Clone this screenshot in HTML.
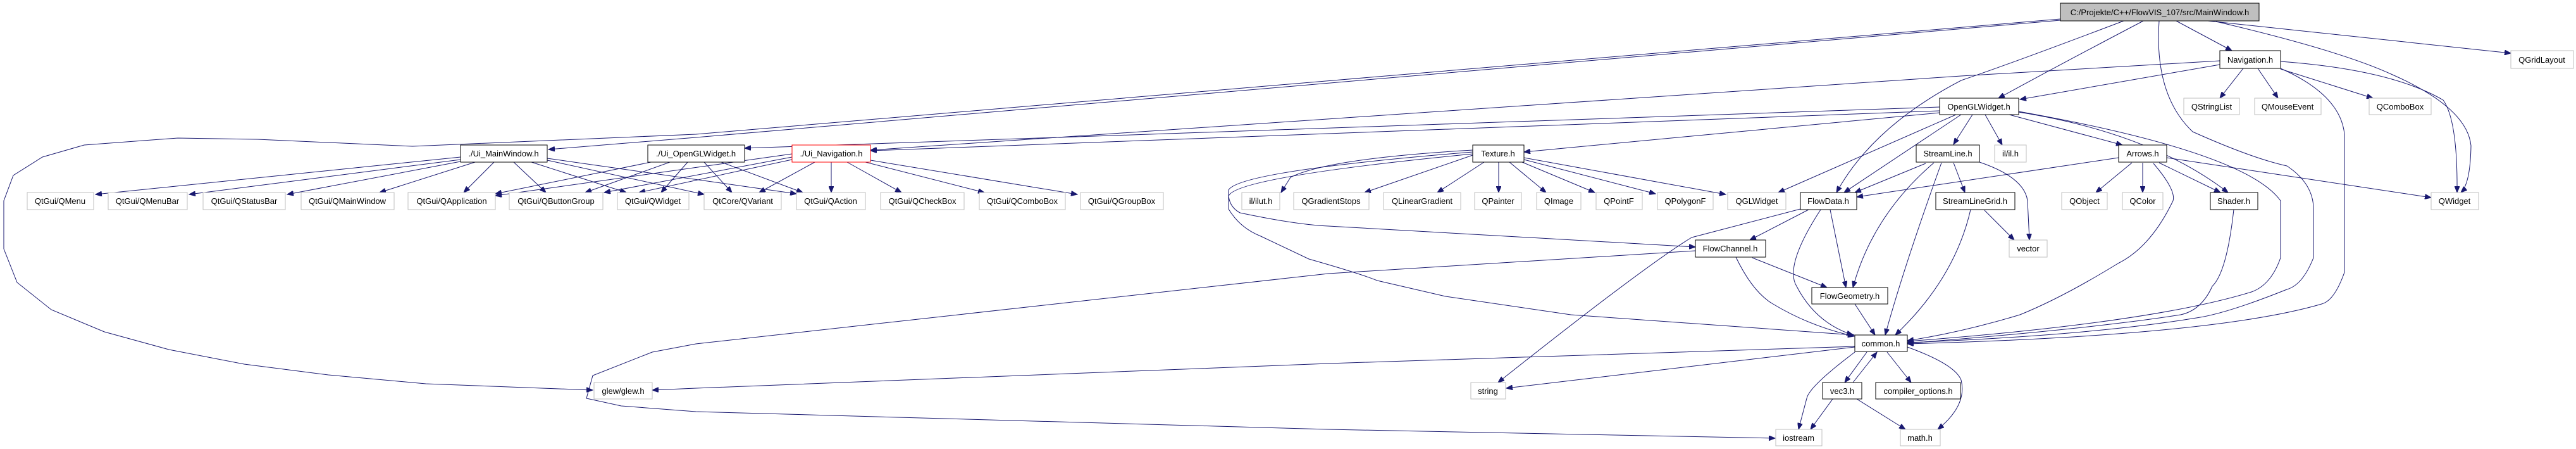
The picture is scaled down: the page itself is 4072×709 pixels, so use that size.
<!DOCTYPE html>
<html><head><meta charset="utf-8"><style>
html,body{margin:0;padding:0;background:#fff;}
svg{display:block;}
text{font-family:"Liberation Sans",Arial,sans-serif;font-size:13px;fill:#000;text-anchor:middle;}
.g{fill:#fff;stroke:#bfbfbf;stroke-width:1;}
.b{fill:#fff;stroke:#000;stroke-width:1;}
.e{fill:none;stroke:#191970;stroke-width:1;marker-end:url(#a);}
</style></head><body>
<svg width="4072" height="709" viewBox="0 0 4072 709" xmlns="http://www.w3.org/2000/svg">
<defs><marker id="a" markerUnits="userSpaceOnUse" markerWidth="11" markerHeight="8" refX="10" refY="4" orient="auto"><path d="M0,0 L10,4 L0,8 z" fill="#191970" stroke="#191970"/></marker></defs>

<!-- edges -->
<g>
<!-- root -->
<path class="e" d="M3257,32 L1100,217 L867,236"/>
<path class="e" d="M3257,30 L1100,212 L652,231 L407,220 L281,218 L133,229 L67,248 L21,277 L6,317 L6,393 L27,446 L81,489 L165,524 L267,552 L386,575 L519,592 L673,606 L937,616"/>
<path class="e" d="M3388,33 Q3260,100 3159,155"/>
<path class="e" d="M3440,33 L3528,80"/>
<path class="e" d="M3490,33 L3969,84"/>
<path class="e" d="M3503,34 Q3700,80 3782,118 Q3900,170 3906,230 Q3905,290 3890,304"/>
<path class="e" d="M3413,33 Q3405,150 3466,208 Q3560,250 3615,262 Q3657,290 3657,330 L3657,407 Q3640,450 3615,457 Q3520,495 3472,502 Q3300,530 3015,541"/>
<path class="e" d="M3357,33 Q3180,100 3100,127 Q2960,200 2903,304"/>
<!-- Navigation -->
<path class="e" d="M3546,108 L3509,155"/>
<path class="e" d="M3569,108 L3601,155"/>
<path class="e" d="M3605,109 L3751,155"/>
<path class="e" d="M3605,97 Q3780,110 3862,158 Q3885,190 3884,304"/>
<path class="e" d="M3509,102 L3193,157"/>
<path class="e" d="M3509,96 L3100,120 L1376,237"/>
<path class="e" d="M3605,108 Q3700,150 3706,212 L3706,430 Q3690,475 3670,480 Q3500,530 3015,543"/>
<!-- OpenGLWidget -->
<path class="e" d="M3066,169 L1177,234"/>
<path class="e" d="M3066,172 L1100,225 L1376,237" style="display:none"/>
<path class="e" d="M3066,175 L1376,238"/>
<path class="e" d="M3066,178 L2409,240"/>
<path class="e" d="M3092,181 L2811,304"/>
<path class="e" d="M3100,181 L2915,304"/>
<path class="e" d="M3118,181 L3088,228"/>
<path class="e" d="M3138,181 L3165,229"/>
<path class="e" d="M3176,181 L3355,229"/>
<path class="e" d="M3191,177 Q3400,210 3522,304"/>
<path class="e" d="M3191,176 Q3550,240 3605,317 L3605,407 Q3590,450 3559,461 Q3400,510 3015,539"/>
<!-- Texture -->
<path class="e" d="M2328,237 Q2100,250 2040,280 L2025,304"/>
<path class="e" d="M2328,245 L2157,304"/>
<path class="e" d="M2346,256 L2272,304"/>
<path class="e" d="M2369,256 L2369,304"/>
<path class="e" d="M2386,256 L2444,304"/>
<path class="e" d="M2406,256 L2521,304"/>
<path class="e" d="M2409,252 L2617,306"/>
<path class="e" d="M2409,249 L2728,307"/>
<path class="e" d="M2328,240 Q1960,270 1942,300 Q1940,325 1960,336 Q2050,355 2100,357 L2680,390"/>
<path class="e" d="M2328,243 Q1950,280 1942,310 L1942,330 Q1960,360 1993,373 L2069,409 Q2150,432 2177,443 L2285,468 L2483,497 L2931,529"/>
<!-- Ui_MainWindow -->
<path class="e" d="M728,248 L151,307"/>
<path class="e" d="M728,252 L299,307"/>
<path class="e" d="M728,255 L454,307"/>
<path class="e" d="M751,256 L600,304"/>
<path class="e" d="M781,256 L733,304"/>
<path class="e" d="M812,256 L863,304"/>
<path class="e" d="M840,256 L990,304"/>
<path class="e" d="M865,253 L1113,307"/>
<path class="e" d="M865,250 L1259,306"/>
<!-- Ui_OpenGLWidget -->
<path class="e" d="M1029,256 L783,306"/>
<path class="e" d="M1059,256 L925,304"/>
<path class="e" d="M1087,256 L1045,304"/>
<path class="e" d="M1113,256 L1157,304"/>
<path class="e" d="M1140,256 L1269,304"/>
<!-- Ui_Navigation -->
<path class="e" d="M1252,243 L783,309"/>
<path class="e" d="M1252,248 L955,304"/>
<path class="e" d="M1252,252 L1010,304"/>
<path class="e" d="M1288,256 L1200,304"/>
<path class="e" d="M1314,256 L1314,304"/>
<path class="e" d="M1339,256 L1425,304"/>
<path class="e" d="M1368,256 L1556,304"/>
<path class="e" d="M1376,253 L1703,307"/>
<!-- FlowData -->
<path class="e" d="M2859,331 L2766,379"/>
<path class="e" d="M2893,331 L2918,454"/>
<path class="e" d="M2878,331 Q2820,420 2840,452 Q2870,510 2929,529"/>
<path class="e" d="M2846,330 L2674,375 Q2600,420 2368,604"/>
<!-- FlowChannel -->
<path class="e" d="M2770,407 L2888,454"/>
<path class="e" d="M2744,406 Q2770,460 2801,479 Q2860,515 2931,531"/>
<path class="e" d="M2680,396 L2100,432 L1100,543 L1031,556 L937,593 L927,629 L982,641 L1100,650 L2100,678 L2806,692"/>
<!-- FlowGeometry -->
<path class="e" d="M2932,480 L2964,529"/>
<!-- StreamLine -->
<path class="e" d="M3044,258 L2932,304"/>
<path class="e" d="M3057,257 Q2960,340 2929,454"/>
<path class="e" d="M3069,257 Q3010,420 2980,529"/>
<path class="e" d="M3088,257 L3106,304"/>
<path class="e" d="M3129,256 Q3200,280 3205,317 L3208,379"/>
<!-- Arrows -->
<path class="e" d="M3349,249 L2935,311"/>
<path class="e" d="M3370,257 L3313,304"/>
<path class="e" d="M3387,257 L3387,304"/>
<path class="e" d="M3413,257 L3510,304"/>
<path class="e" d="M3425,249 L3843,312"/>
<path class="e" d="M3404,258 Q3440,300 3435,317 Q3400,390 3348,416 Q3260,470 3193,497 Q3100,525 3015,538"/>
<!-- StreamLineGrid -->
<path class="e" d="M3137,332 L3184,379"/>
<path class="e" d="M3115,331 Q3090,440 2996,529"/>
<!-- Shader -->
<path class="e" d="M3531,331 Q3520,430 3497,452 Q3480,490 3447,497 Q3300,520 3015,542"/>
<!-- common -->
<path class="e" d="M2932,548 L2381,613"/>
<path class="e" d="M2951,556 L2916,604"/>
<path class="e" d="M2929,604 L2967,556"/>
<path class="e" d="M2983,556 L3021,604"/>
<path class="e" d="M2932,556 Q2860,610 2856,629 L2843,678"/>
<path class="e" d="M3015,548 Q3090,575 3100,600 Q3110,640 3063,678"/>
<path class="e" d="M2932,547 L2100,574 L1100,613 L1031,616"/>
<!-- vec3 -->
<path class="e" d="M2897,630 L2862,678"/>
<path class="e" d="M2935,630 L3012,678"/>
</g>

<!-- nodes -->
<rect x="3257" y="5" width="314" height="28" fill="#bfbfbf" stroke="#000"/><text x="3414" y="24">C:/Projekte/C++/FlowVIS_107/src/MainWindow.h</text>
<rect class="b" x="3509" y="80" width="96" height="28"/><text x="3557" y="99">Navigation.h</text>
<rect class="g" x="3969" y="80" width="99" height="28"/><text x="4018" y="99">QGridLayout</text>
<rect class="b" x="3066" y="155" width="125" height="26"/><text x="3128" y="173">OpenGLWidget.h</text>
<rect class="g" x="3452" y="155" width="88" height="26"/><text x="3496" y="173">QStringList</text>
<rect class="g" x="3564" y="155" width="105" height="26"/><text x="3616" y="173">QMouseEvent</text>
<rect class="g" x="3745" y="155" width="98" height="26"/><text x="3794" y="173">QComboBox</text>

<rect class="b" x="728" y="229" width="137" height="27"/><text x="796" y="247">./Ui_MainWindow.h</text>
<rect class="b" x="1024" y="229" width="153" height="27"/><text x="1100" y="247">./Ui_OpenGLWidget.h</text>
<rect x="1252" y="229" width="124" height="27" fill="#fff" stroke="#ff0000"/><text x="1314" y="247">./Ui_Navigation.h</text>
<rect class="b" x="2328" y="229" width="81" height="27"/><text x="2368" y="247">Texture.h</text>
<rect class="b" x="3029" y="229" width="100" height="27"/><text x="3079" y="247">StreamLine.h</text>
<rect class="g" x="3153" y="229" width="50" height="27"/><text x="3178" y="247">il/il.h</text>
<rect class="b" x="3349" y="229" width="76" height="27"/><text x="3387" y="247">Arrows.h</text>

<g>
<rect class="g" x="43" y="304" width="105" height="27"/><text x="95" y="322">QtGui/QMenu</text>
<rect class="g" x="171" y="304" width="125" height="27"/><text x="233" y="322">QtGui/QMenuBar</text>
<rect class="g" x="321" y="304" width="130" height="27"/><text x="386" y="322">QtGui/QStatusBar</text>
<rect class="g" x="476" y="304" width="147" height="27"/><text x="549" y="322">QtGui/QMainWindow</text>
<rect class="g" x="645" y="304" width="138" height="27"/><text x="714" y="322">QtGui/QApplication</text>
<rect class="g" x="805" y="304" width="148" height="27"/><text x="879" y="322">QtGui/QButtonGroup</text>
<rect class="g" x="976" y="304" width="113" height="27"/><text x="1032" y="322">QtGui/QWidget</text>
<rect class="g" x="1113" y="304" width="122" height="27"/><text x="1174" y="322">QtCore/QVariant</text>
<rect class="g" x="1259" y="304" width="109" height="27"/><text x="1313" y="322">QtGui/QAction</text>
<rect class="g" x="1392" y="304" width="132" height="27"/><text x="1458" y="322">QtGui/QCheckBox</text>
<rect class="g" x="1548" y="304" width="136" height="27"/><text x="1616" y="322">QtGui/QComboBox</text>
<rect class="g" x="1708" y="304" width="131" height="27"/><text x="1773" y="322">QtGui/QGroupBox</text>
<rect class="g" x="1963" y="304" width="60" height="27"/><text x="1993" y="322">il/ilut.h</text>
<rect class="g" x="2045" y="304" width="119" height="27"/><text x="2104" y="322">QGradientStops</text>
<rect class="g" x="2187" y="304" width="122" height="27"/><text x="2248" y="322">QLinearGradient</text>
<rect class="g" x="2331" y="304" width="74" height="27"/><text x="2368" y="322">QPainter</text>
<rect class="g" x="2429" y="304" width="70" height="27"/><text x="2464" y="322">QImage</text>
<rect class="g" x="2523" y="304" width="73" height="27"/><text x="2559" y="322">QPointF</text>
<rect class="g" x="2620" y="304" width="88" height="27"/><text x="2664" y="322">QPolygonF</text>
<rect class="g" x="2731" y="304" width="92" height="27"/><text x="2777" y="322">QGLWidget</text>
<rect class="b" x="2846" y="304" width="89" height="27"/><text x="2890" y="322">FlowData.h</text>
<rect class="b" x="3060" y="304" width="125" height="27"/><text x="3122" y="322">StreamLineGrid.h</text>
<rect class="g" x="3259" y="304" width="72" height="27"/><text x="3295" y="322">QObject</text>
<rect class="g" x="3355" y="304" width="64" height="27"/><text x="3387" y="322">QColor</text>
<rect class="b" x="3494" y="304" width="75" height="27"/><text x="3531" y="322">Shader.h</text>
<rect class="g" x="3843" y="304" width="75" height="27"/><text x="3880" y="322">QWidget</text>
</g>

<rect class="b" x="2680" y="379" width="111" height="27"/><text x="2735" y="397">FlowChannel.h</text>
<rect class="g" x="3176" y="379" width="60" height="27"/><text x="3206" y="397">vector</text>
<rect class="b" x="2864" y="454" width="120" height="26"/><text x="2924" y="472">FlowGeometry.h</text>
<rect class="b" x="2932" y="529" width="83" height="26"/><text x="2973" y="547">common.h</text>
<rect class="g" x="939" y="604" width="92" height="26"/><text x="985" y="622">glew/glew.h</text>
<rect class="g" x="2325" y="604" width="55" height="26"/><text x="2352" y="622">string</text>
<rect class="b" x="2881" y="604" width="62" height="26"/><text x="2912" y="622">vec3.h</text>
<rect class="b" x="2965" y="604" width="134" height="26"/><text x="3032" y="622">compiler_options.h</text>
<rect class="g" x="2807" y="678" width="73" height="26"/><text x="2843" y="696">iostream</text>
<rect class="g" x="3004" y="678" width="63" height="26"/><text x="3035" y="696">math.h</text>
</svg>
</body></html>
